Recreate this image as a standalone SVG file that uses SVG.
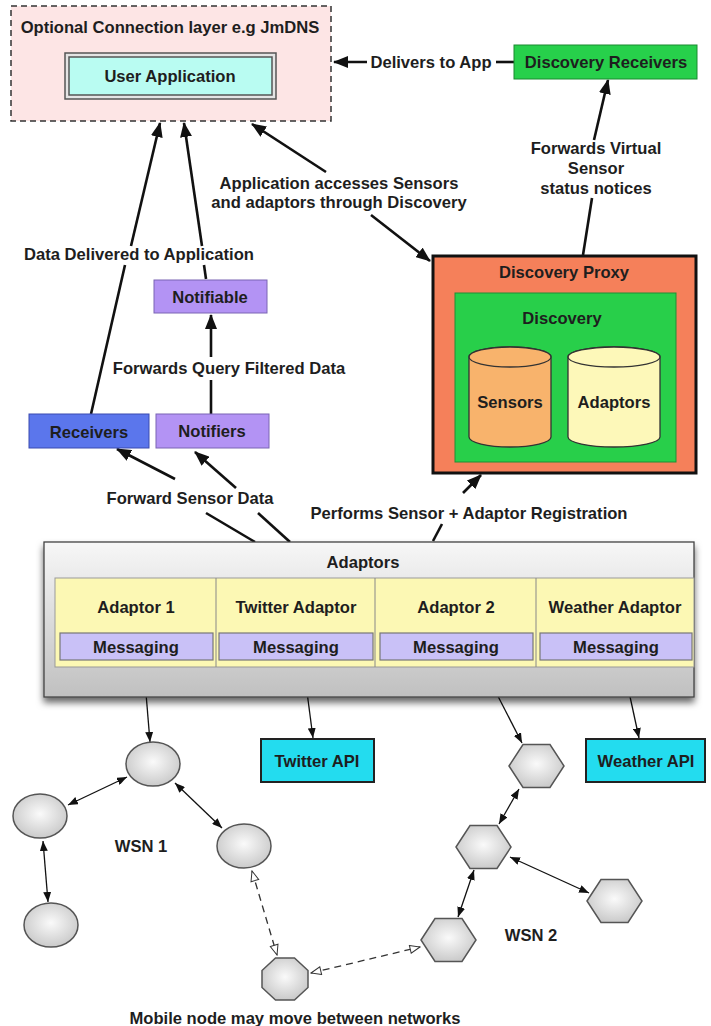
<svg xmlns="http://www.w3.org/2000/svg" width="711" height="1026" viewBox="0 0 711 1026">
<defs>
<style>
text{font-family:"Liberation Sans",Arial,sans-serif;font-weight:bold;font-size:16.6px;fill:#1e1e1e;text-anchor:middle}
.big{stroke:#111;stroke-width:2.6;fill:none}
.thin{stroke:#111;stroke-width:1.3;fill:none}
.dash{stroke:#333;stroke-width:1.3;fill:none;stroke-dasharray:7,5}
.node{fill:url(#ng);stroke:#555;stroke-width:1.5}
.msg{fill:#c9c1f7;stroke:#777;stroke-width:1.2}
</style>
<radialGradient id="ng" cx="0.5" cy="0.45" r="0.6">
<stop offset="0" stop-color="#fafafa"/>
<stop offset="1" stop-color="#c6c6c6"/>
</radialGradient>
<linearGradient id="ag" x1="0" y1="0" x2="0" y2="1">
<stop offset="0" stop-color="#f7f7f7"/>
<stop offset="1" stop-color="#c0c0c0"/>
</linearGradient>
<filter id="sh" x="-5%" y="-10%" width="110%" height="130%">
<feDropShadow dx="0" dy="5" stdDeviation="3.5" flood-color="#000" flood-opacity="0.6"/>
</filter>
<marker id="ah" markerUnits="userSpaceOnUse" markerWidth="15" markerHeight="12" refX="14" refY="6" orient="auto-start-reverse">
<path d="M0,0 L15,6 L0,12 z" fill="#111"/>
</marker>
<marker id="sa" markerUnits="userSpaceOnUse" markerWidth="10" markerHeight="8" refX="10" refY="4" orient="auto-start-reverse">
<path d="M0,0 L10,4 L0,8 z" fill="#111"/>
</marker>
<marker id="oa" markerUnits="userSpaceOnUse" markerWidth="12" markerHeight="10" refX="11" refY="5" orient="auto-start-reverse">
<path d="M1,1 L11,5 L1,9 z" fill="#fff" stroke="#333" stroke-width="1"/>
</marker>
</defs>
<rect width="711" height="1026" fill="#fff"/>

<g id="connectors">
<line class="big" x1="496" y1="62" x2="514" y2="62"/>
<line class="big" x1="367" y1="62" x2="334" y2="62" marker-end="url(#ah)"/>
<line class="big" x1="583" y1="255" x2="592" y2="198"/>
<line class="big" x1="594" y1="140" x2="608" y2="80" marker-end="url(#ah)"/>
<line class="big" x1="252" y1="124" x2="326" y2="172" marker-start="url(#ah)"/>
<line class="big" x1="371" y1="215" x2="430" y2="261" marker-end="url(#ah)"/>
<line class="big" x1="91" y1="414" x2="125" y2="265"/>
<line class="big" x1="131" y1="246" x2="160" y2="123" marker-end="url(#ah)"/>
<line class="big" x1="206" y1="279" x2="204" y2="265"/>
<line class="big" x1="202" y1="246" x2="184" y2="123" marker-end="url(#ah)"/>
<line class="big" x1="211" y1="414" x2="211" y2="380"/>
<line class="big" x1="211" y1="357" x2="211" y2="315" marker-end="url(#ah)"/>
<line class="big" x1="255" y1="542" x2="206" y2="513"/>
<line class="big" x1="175" y1="479" x2="117" y2="449" marker-end="url(#ah)"/>
<line class="big" x1="290" y1="542" x2="258" y2="513"/>
<line class="big" x1="236" y1="488" x2="195" y2="452" marker-end="url(#ah)"/>
<line class="big" x1="433" y1="541" x2="442" y2="524"/>
<line class="big" x1="463" y1="493" x2="481" y2="475" marker-end="url(#ah)"/>
<line class="thin" x1="144" y1="669" x2="150" y2="742" marker-start="url(#sa)" marker-end="url(#sa)"/>
<line class="thin" x1="304" y1="669" x2="313" y2="738" marker-start="url(#sa)" marker-end="url(#sa)"/>
<line class="thin" x1="484" y1="669" x2="522" y2="743" marker-start="url(#sa)" marker-end="url(#sa)"/>
<line class="thin" x1="624" y1="669" x2="639" y2="738" marker-start="url(#sa)" marker-end="url(#sa)"/>
<line class="thin" x1="68" y1="805" x2="127" y2="777" marker-start="url(#sa)" marker-end="url(#sa)"/>
<line class="thin" x1="175" y1="783" x2="222" y2="828" marker-start="url(#sa)" marker-end="url(#sa)"/>
<line class="thin" x1="43" y1="841" x2="48" y2="902" marker-start="url(#sa)" marker-end="url(#sa)"/>
<line class="thin" x1="519" y1="789" x2="499" y2="824" marker-start="url(#sa)" marker-end="url(#sa)"/>
<line class="thin" x1="510" y1="857" x2="589" y2="893" marker-start="url(#sa)" marker-end="url(#sa)"/>
<line class="thin" x1="474" y1="870" x2="458" y2="917" marker-start="url(#sa)" marker-end="url(#sa)"/>
<line class="dash" x1="252" y1="871" x2="277" y2="955" marker-start="url(#oa)" marker-end="url(#oa)"/>
<line class="dash" x1="311" y1="973" x2="420" y2="947" marker-start="url(#oa)" marker-end="url(#oa)"/>
<text x="431" y="68">Delivers to App</text>
<text x="596" y="154">Forwards Virtual</text>
<text x="596" y="174">Sensor</text>
<text x="596" y="194">status notices</text>
<text x="339" y="189">Application accesses Sensors</text>
<text x="339" y="208">and adaptors through Discovery</text>
<text x="139" y="260">Data Delivered to Application</text>
<text x="229" y="374">Forwards Query Filtered Data</text>
<text x="190" y="504">Forward Sensor Data</text>
<text x="469" y="519">Performs Sensor + Adaptor Registration</text>
</g>

<g id="connection-layer">
<rect x="11" y="6" width="320" height="115" fill="#fde5e5" stroke="#333" stroke-width="1.5" stroke-dasharray="6,4"/>
<text x="170" y="33">Optional Connection layer e.g JmDNS</text>
</g>
<g id="user-application">
<rect x="65" y="53" width="211" height="46" fill="#e4e4e4" stroke="#555" stroke-width="1.5"/>
<rect x="69" y="57" width="203" height="38" fill="#b9fcf2" stroke="#555" stroke-width="1.5"/>
<text x="170" y="82">User Application</text>
</g>
<g id="discovery-receivers">
<rect x="514" y="45" width="183" height="34" fill="#27d04b" stroke="#1a8a30"/>
<text x="606" y="68">Discovery Receivers</text>
</g>
<g id="discovery-proxy">
<rect x="433" y="256" width="263" height="217" fill="#f5805a" stroke="#111" stroke-width="3"/>
<text x="564" y="278">Discovery Proxy</text>
</g>
<g id="discovery">
<rect x="455" y="293" width="221" height="169" fill="#28cf4a" stroke="#1f8f35"/>
<text x="562" y="324">Discovery</text>
</g>
<g id="sensors">
<path d="M469,357 L469,437 A41,10 0 0 0 551,437 L551,357 A41,10 0 0 0 469,357 z" fill="#f8b36c" stroke="#333" stroke-width="1.3"/>
<ellipse cx="510" cy="357" rx="41" ry="10" fill="#f8b36c" stroke="#333" stroke-width="1.3"/>
<text x="510" y="408">Sensors</text>
</g>
<g id="adaptors-store">
<path d="M568,357 L568,437 A46,10 0 0 0 660,437 L660,357 A46,10 0 0 0 568,357 z" fill="#fdf8b9" stroke="#333" stroke-width="1.3"/>
<ellipse cx="614" cy="357" rx="46" ry="10" fill="#fdf8b9" stroke="#333" stroke-width="1.3"/>
<text x="614" y="408">Adaptors</text>
</g>
<g id="notifiable">
<rect x="154" y="280" width="113" height="33" fill="#b393f4" stroke="#7a64b4"/>
<text x="210" y="303">Notifiable</text>
</g>
<g id="receivers">
<rect x="29" y="414" width="120" height="34" fill="#5b76ec" stroke="#3a4ab0"/>
<text x="89" y="438">Receivers</text>
</g>
<g id="notifiers">
<rect x="156" y="414" width="113" height="34" fill="#b393f4" stroke="#7a64b4"/>
<text x="212" y="437">Notifiers</text>
</g>

<g id="adaptors">
<rect x="44" y="542" width="650" height="155" fill="url(#ag)" stroke="#444" stroke-width="1.3" filter="url(#sh)"/>
<text x="363" y="568">Adaptors</text>
<rect x="55" y="578" width="639" height="89" fill="#fcf8b4" stroke="#999"/>
<line x1="216" y1="578" x2="216" y2="667" stroke="#888"/>
<line x1="375" y1="578" x2="375" y2="667" stroke="#888"/>
<line x1="536" y1="578" x2="536" y2="667" stroke="#888"/>
</g>
<g id="adaptor-1">
<text x="136" y="613">Adaptor 1</text>
<rect class="msg" x="60" y="633" width="153" height="27"/>
<text x="136" y="653">Messaging</text>
</g>
<g id="twitter-adaptor">
<text x="296" y="613">Twitter Adaptor</text>
<rect class="msg" x="219" y="633" width="154" height="27"/>
<text x="296" y="653">Messaging</text>
</g>
<g id="adaptor-2">
<text x="456" y="613">Adaptor 2</text>
<rect class="msg" x="380" y="633" width="153" height="27"/>
<text x="456" y="653">Messaging</text>
</g>
<g id="weather-adaptor">
<text x="615" y="613">Weather Adaptor</text>
<rect class="msg" x="540" y="633" width="152" height="27"/>
<text x="616" y="653">Messaging</text>
</g>

<g id="twitter-api">
<rect x="261" y="739" width="113" height="43" fill="#23dcef" stroke="#222" stroke-width="2"/>
<text x="317" y="767">Twitter API</text>
</g>
<g id="weather-api">
<rect x="586" y="739" width="119" height="43" fill="#23dcef" stroke="#222" stroke-width="2"/>
<text x="646" y="767">Weather API</text>
</g>

<g id="wsn1-node-a"><ellipse class="node" cx="153" cy="764" rx="27" ry="22"/></g>
<g id="wsn1-node-b"><ellipse class="node" cx="40" cy="816" rx="27" ry="22"/></g>
<g id="wsn1-node-c"><ellipse class="node" cx="244" cy="846" rx="27" ry="22"/></g>
<g id="wsn1-node-d"><ellipse class="node" cx="51" cy="925" rx="27" ry="22"/></g>
<g id="wsn1-label"><text x="141" y="852">WSN 1</text></g>

<g id="wsn2-node-a"><polygon class="node" points="509,766 523,744.5 550,744.5 564,766 550,787.5 523,787.5"/></g>
<g id="wsn2-node-b"><polygon class="node" points="456,847 470,825.5 497,825.5 511,847 497,868.5 470,868.5"/></g>
<g id="wsn2-node-c"><polygon class="node" points="587,901 601,879.5 628,879.5 642,901 628,922.5 601,922.5"/></g>
<g id="wsn2-node-d"><polygon class="node" points="421,940 435,918.5 462,918.5 476,940 462,961.5 435,961.5"/></g>
<g id="wsn2-label"><text x="531" y="941">WSN 2</text></g>

<g id="mobile-node">
<polygon class="node" points="275.5,958 294.5,958 308,970.5 308,987.5 294.5,1000 275.5,1000 262,987.5 262,970.5"/>
<text x="295" y="1024">Mobile node may move between networks</text>
</g>
</svg>
